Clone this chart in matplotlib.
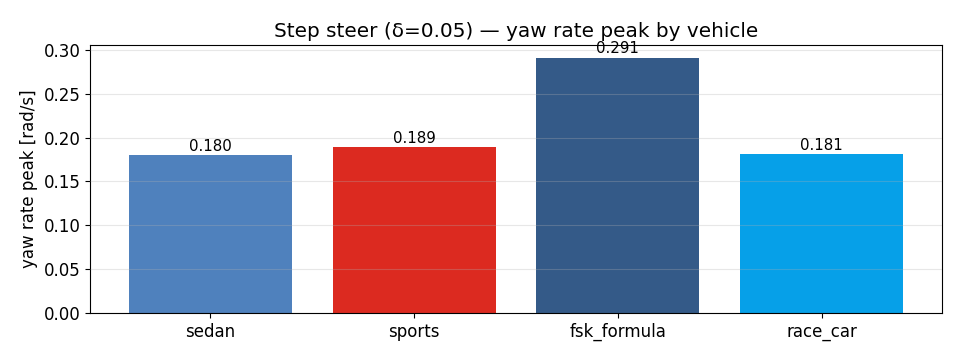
import matplotlib
matplotlib.use("Agg")
import matplotlib.pyplot as plt

vehicles = ["sedan", "sports", "fsk_formula", "race_car"]
yaw_peak = [0.180, 0.189, 0.291, 0.181]
colors = ["#4f81bd", "#dc2a20", "#345a88", "#06a0e8"]

fig = plt.figure(figsize=(9.6, 3.6), dpi=100)
ax = fig.add_axes([90/960, 1-313/360, (942-90)/960, (313-45)/360])
bars = ax.bar(vehicles, yaw_peak, color=colors, width=0.8, zorder=1)
ax.bar_label(bars, labels=[f"{v:.3f}" for v in yaw_peak], padding=1, fontsize=10.8)
ax.set_ylim(0, max(yaw_peak) * 1.05)
ax.yaxis.grid(True, alpha=0.3, zorder=2)
ax.set_axisbelow(False)
ax.set_ylabel("yaw rate peak [rad/s]", fontsize=12)
ax.set_title("Step steer (δ=0.05) — yaw rate peak by vehicle", fontsize=14.4)
ax.tick_params(labelsize=12)
fig.savefig("out.png", dpi=100)
